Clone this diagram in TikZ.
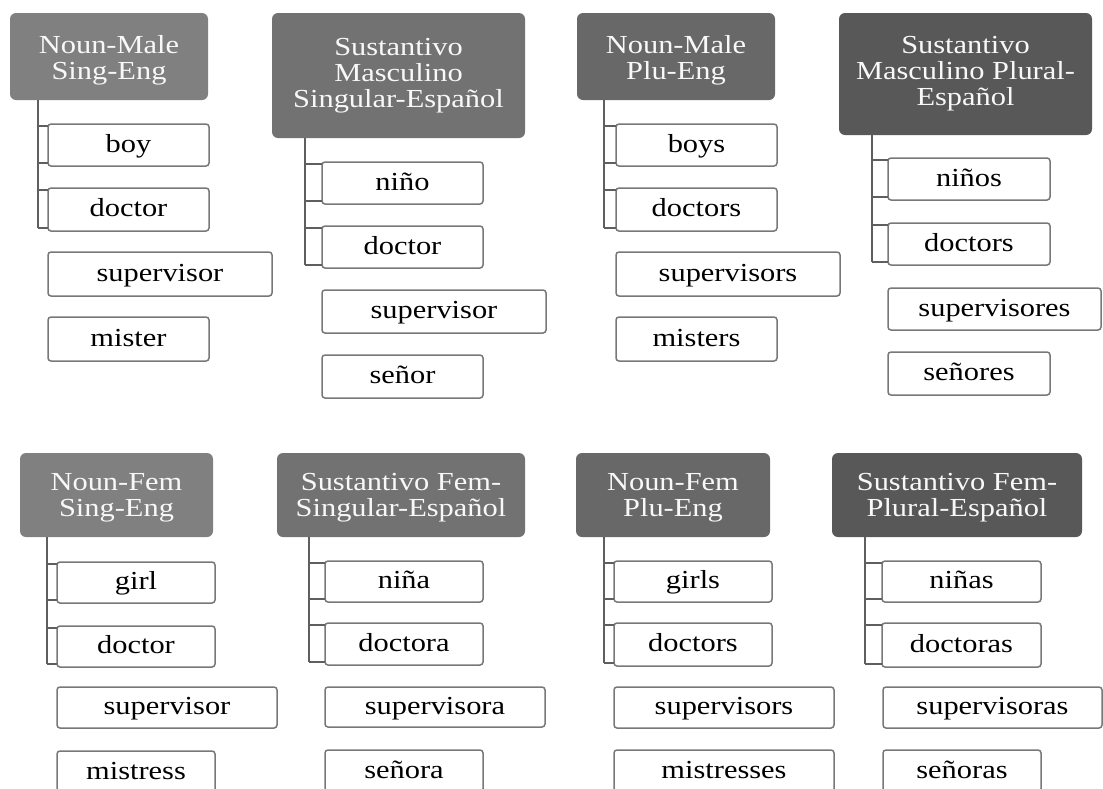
\documentclass[tikz,border=0pt]{standalone}
\usepackage{fontspec}
\setmainfont[FakeStretch=1.17]{Liberation Serif}
\definecolor{hA}{RGB}{128,128,128}
\definecolor{hB}{RGB}{114,114,114}
\definecolor{hC}{RGB}{104,104,104}
\definecolor{hD}{RGB}{88,88,88}
\definecolor{itemb}{RGB}{120,120,120}
\definecolor{connc}{RGB}{95,95,95}
\definecolor{htext}{RGB}{248,248,248}
\tikzset{
  hdr/.style={rounded corners=6pt, anchor=north west, inner sep=0pt, outer sep=0pt,
    align=center, text=htext, font=\fontsize{26}{26}\selectfont},
  item/.style={draw=itemb, line width=1.5pt, fill=white, rounded corners=3pt,
    anchor=north west, inner sep=0pt, outer sep=0pt, text=black,
    text height=19pt, text depth=5pt, font=\fontsize{26}{26}\selectfont},
  connline/.style={draw=connc, line width=2.6pt},
}
\newcommand\toppad{\rule{0pt}{25pt}}
\newcommand\toppadb{\rule{0pt}{22pt}}
% stubs from vertical line #1 to left edge of child #2
\newcommand\hookstub[2]{%
  \path ([yshift=-2pt]#2.north west) coordinate (#2t)
        ([yshift=3pt]#2.south west) coordinate (#2b);
  \draw[connline] (#1 |- #2t) -- (#2t);
  \draw[connline] (#1 |- #2b) -- (#2b);}
% full connector: vertical line #1, header #2, children #3 and #4
\newcommand\branch[4]{%
  \hookstub{#1}{#3}\hookstub{#1}{#4}%
  \draw[connline] (#1 |- #2.south) -- (#1 |- #4b);}
\begin{document}
\begin{tikzpicture}[x=1pt,y=-1pt]
\useasboundingbox (0,0) rectangle (1103,788);
\clip (0,0) rectangle (1103,788);

% ---------- Group 1 ----------
\node[hdr, fill=hA, minimum width=198pt, minimum height=87pt] (h1) at (10,13) {\toppad Noun-Male\\Sing-Eng};
\node[item, minimum width=161pt, minimum height=42pt] (a1) at (48,124) {boy};
\node[item, minimum width=161pt, minimum height=43pt] (a2) at (48,188) {doctor};
\node[item, minimum width=224pt, minimum height=44pt] (a3) at (48,252) {supervisor};
\node[item, minimum width=161pt, minimum height=44pt] (a4) at (48,317) {mister};
\coordinate (v1) at (38,0);
\branch{v1}{h1}{a1}{a2}

% ---------- Group 2 ----------
\node[hdr, fill=hB, minimum width=253pt, minimum height=125pt] (h2) at (272,13) {Sustantivo\\Masculino\\Singular-Español};
\node[item, minimum width=161pt, minimum height=42pt] (b1) at (322,162) {niño};
\node[item, minimum width=161pt, minimum height=42pt] (b2) at (322,226) {doctor};
\node[item, minimum width=224pt, minimum height=43pt] (b3) at (322,290) {supervisor};
\node[item, minimum width=161pt, minimum height=43pt] (b4) at (322,355) {señor};
\coordinate (v2) at (305,0);
\branch{v2}{h2}{b1}{b2}

% ---------- Group 3 ----------
\node[hdr, fill=hC, minimum width=198pt, minimum height=87pt] (h3) at (577,13) {\toppad Noun-Male\\Plu-Eng};
\node[item, minimum width=161pt, minimum height=42pt] (c1) at (616,124) {boys};
\node[item, minimum width=161pt, minimum height=43pt] (c2) at (616,188) {doctors};
\node[item, minimum width=224pt, minimum height=44pt] (c3) at (616,252) {supervisors};
\node[item, minimum width=161pt, minimum height=44pt] (c4) at (616,317) {misters};
\coordinate (v3) at (604,0);
\branch{v3}{h3}{c1}{c2}

% ---------- Group 4 ----------
\node[hdr, fill=hD, minimum width=253pt, minimum height=122pt] (h4) at (839,13) {Sustantivo\\Masculino Plural-\\Español};
\node[item, minimum width=162pt, minimum height=42pt] (d1) at (888,158) {niños};
\node[item, minimum width=162pt, minimum height=42pt] (d2) at (888,223) {doctors};
\node[item, minimum width=213pt, minimum height=42pt] (d3) at (888,288) {supervisores};
\node[item, minimum width=162pt, minimum height=43pt] (d4) at (888,352) {señores};
\coordinate (v4) at (872,0);
\branch{v4}{h4}{d1}{d2}

% ---------- Group 5 ----------
\node[hdr, fill=hA, minimum width=193pt, minimum height=84pt] (h5) at (20,453) {\toppadb Noun-Fem\\Sing-Eng};
\node[item, minimum width=158pt, minimum height=41pt] (e1) at (57,562) {girl};
\node[item, minimum width=158pt, minimum height=41pt] (e2) at (57,626) {doctor};
\node[item, minimum width=220pt, minimum height=41pt] (e3) at (57,687) {supervisor};
\node[item, minimum width=158pt, minimum height=42pt] (e4) at (57,751) {mistress};
\coordinate (v5) at (47,0);
\branch{v5}{h5}{e1}{e2}

% ---------- Group 6 ----------
\node[hdr, fill=hB, minimum width=248pt, minimum height=84pt] (h6) at (277,453) {\toppadb Sustantivo Fem-\\Singular-Español};
\node[item, minimum width=158pt, minimum height=41pt] (f1) at (325,561) {niña};
\node[item, minimum width=158pt, minimum height=42pt] (f2) at (325,623) {doctora};
\node[item, minimum width=220pt, minimum height=40pt] (f3) at (325,687) {supervisora};
\node[item, minimum width=158pt, minimum height=42pt] (f4) at (325,750) {señora};
\coordinate (v6) at (309,0);
\branch{v6}{h6}{f1}{f2}

% ---------- Group 7 ----------
\node[hdr, fill=hC, minimum width=194pt, minimum height=84pt] (h7) at (576,453) {\toppadb Noun-Fem\\Plu-Eng};
\node[item, minimum width=158pt, minimum height=41pt] (g1) at (614,561) {girls};
\node[item, minimum width=158pt, minimum height=43pt] (g2) at (614,623) {doctors};
\node[item, minimum width=220pt, minimum height=41pt] (g3) at (614,687) {supervisors};
\node[item, minimum width=220pt, minimum height=42pt] (g4) at (614,750) {mistresses};
\coordinate (v7) at (604,0);
\branch{v7}{h7}{g1}{g2}

% ---------- Group 8 ----------
\node[hdr, fill=hD, minimum width=250pt, minimum height=84pt] (h8) at (832,453) {\toppadb Sustantivo Fem-\\Plural-Español};
\node[item, minimum width=159pt, minimum height=41pt] (k1) at (882,561) {niñas};
\node[item, minimum width=159pt, minimum height=44pt] (k2) at (882,623) {doctoras};
\node[item, minimum width=219pt, minimum height=41pt] (k3) at (883,687) {supervisoras};
\node[item, minimum width=158pt, minimum height=42pt] (k4) at (883,750) {señoras};
\coordinate (v8) at (865,0);
\branch{v8}{h8}{k1}{k2}
\end{tikzpicture}
\end{document}
